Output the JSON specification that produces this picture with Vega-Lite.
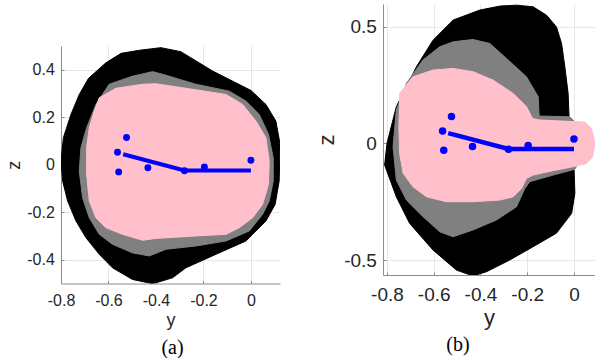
{
  "$schema": "https://vega.github.io/schema/vega-lite/v6.json",
  "padding": {"left": 5, "top": 4, "right": 0, "bottom": 0},
  "background": "white",
  "config": {
    "view": {"stroke": null},
    "axis": {"labelFont": "Liberation Sans", "titleFont": "Liberation Sans", "labelColor": "#262626", "titleColor": "#262626", "titleFontWeight": "normal", "gridColor": "#e6e6e6", "gridWidth": 1, "domainColor": "#8c8c8c", "domainWidth": 1, "ticks": true, "tickSize": -3, "tickColor": "#8c8c8c", "tickWidth": 1, "labelFlush": false, "labelOverlap": false},
    "title": {"font": "Liberation Serif", "fontWeight": "normal", "color": "black"}
  },
  "datasets": {
    "shapes": [
      {"p":"a","s":"black","i":1,"y":-0.379,"z":0.493},{"p":"a","s":"black","i":2,"y":-0.295,"z":0.476},{"p":"a","s":"black","i":3,"y":-0.162,"z":0.395},{"p":"a","s":"black","i":4,"y":0.0,"z":0.313},{"p":"a","s":"black","i":5,"y":0.063,"z":0.254},{"p":"a","s":"black","i":6,"y":0.105,"z":0.184},{"p":"a","s":"black","i":7,"y":0.123,"z":0.086},{"p":"a","s":"black","i":8,"y":0.119,"z":-0.069},{"p":"a","s":"black","i":9,"y":0.102,"z":-0.167},{"p":"a","s":"black","i":10,"y":0.063,"z":-0.237},{"p":"a","s":"black","i":11,"y":0.007,"z":-0.293},{"p":"a","s":"black","i":12,"y":-0.021,"z":-0.321},{"p":"a","s":"black","i":13,"y":-0.147,"z":-0.377},{"p":"a","s":"black","i":14,"y":-0.274,"z":-0.434},{"p":"a","s":"black","i":15,"y":-0.33,"z":-0.476},{"p":"a","s":"black","i":16,"y":-0.414,"z":-0.501},{"p":"a","s":"black","i":17,"y":-0.499,"z":-0.483},{"p":"a","s":"black","i":18,"y":-0.583,"z":-0.434},{"p":"a","s":"black","i":19,"y":-0.639,"z":-0.377},{"p":"a","s":"black","i":20,"y":-0.695,"z":-0.307},{"p":"a","s":"black","i":21,"y":-0.737,"z":-0.237},{"p":"a","s":"black","i":22,"y":-0.772,"z":-0.153},{"p":"a","s":"black","i":23,"y":-0.793,"z":-0.069},{"p":"a","s":"black","i":24,"y":-0.8,"z":0.016},{"p":"a","s":"black","i":25,"y":-0.79,"z":0.114},{"p":"a","s":"black","i":26,"y":-0.758,"z":0.212},{"p":"a","s":"black","i":27,"y":-0.723,"z":0.296},{"p":"a","s":"black","i":28,"y":-0.684,"z":0.364},{"p":"a","s":"black","i":29,"y":-0.611,"z":0.429},{"p":"a","s":"black","i":30,"y":-0.547,"z":0.469},{"p":"a","s":"black","i":31,"y":-0.47,"z":0.482},
      {"p":"a","s":"gray","i":1,"y":-0.597,"z":0.339},{"p":"a","s":"gray","i":2,"y":-0.499,"z":0.373},{"p":"a","s":"gray","i":3,"y":-0.414,"z":0.392},{"p":"a","s":"gray","i":4,"y":-0.372,"z":0.381},{"p":"a","s":"gray","i":5,"y":-0.232,"z":0.339},{"p":"a","s":"gray","i":6,"y":-0.091,"z":0.31},{"p":"a","s":"gray","i":7,"y":-0.021,"z":0.268},{"p":"a","s":"gray","i":8,"y":0.035,"z":0.212},{"p":"a","s":"gray","i":9,"y":0.074,"z":0.128},{"p":"a","s":"gray","i":10,"y":0.094,"z":0.029},{"p":"a","s":"gray","i":11,"y":0.094,"z":-0.069},{"p":"a","s":"gray","i":12,"y":0.077,"z":-0.153},{"p":"a","s":"gray","i":13,"y":0.049,"z":-0.209},{"p":"a","s":"gray","i":14,"y":-0.007,"z":-0.279},{"p":"a","s":"gray","i":15,"y":-0.105,"z":-0.321},{"p":"a","s":"gray","i":16,"y":-0.232,"z":-0.342},{"p":"a","s":"gray","i":17,"y":-0.358,"z":-0.356},{"p":"a","s":"gray","i":18,"y":-0.428,"z":-0.384},{"p":"a","s":"gray","i":19,"y":-0.499,"z":-0.371},{"p":"a","s":"gray","i":20,"y":-0.583,"z":-0.335},{"p":"a","s":"gray","i":21,"y":-0.639,"z":-0.293},{"p":"a","s":"gray","i":22,"y":-0.681,"z":-0.223},{"p":"a","s":"gray","i":23,"y":-0.709,"z":-0.139},{"p":"a","s":"gray","i":24,"y":-0.723,"z":-0.027},{"p":"a","s":"gray","i":25,"y":-0.716,"z":0.072},{"p":"a","s":"gray","i":26,"y":-0.692,"z":0.156},{"p":"a","s":"gray","i":27,"y":-0.653,"z":0.254},
      {"p":"a","s":"pink","i":1,"y":-0.639,"z":0.282},{"p":"a","s":"pink","i":2,"y":-0.568,"z":0.322},{"p":"a","s":"pink","i":3,"y":-0.456,"z":0.339},{"p":"a","s":"pink","i":4,"y":-0.4,"z":0.341},{"p":"a","s":"pink","i":5,"y":-0.274,"z":0.322},{"p":"a","s":"pink","i":6,"y":-0.105,"z":0.296},{"p":"a","s":"pink","i":7,"y":-0.035,"z":0.254},{"p":"a","s":"pink","i":8,"y":0.021,"z":0.184},{"p":"a","s":"pink","i":9,"y":0.063,"z":0.114},{"p":"a","s":"pink","i":10,"y":0.077,"z":0.016},{"p":"a","s":"pink","i":11,"y":0.074,"z":-0.083},{"p":"a","s":"pink","i":12,"y":0.049,"z":-0.167},{"p":"a","s":"pink","i":13,"y":0.007,"z":-0.223},{"p":"a","s":"pink","i":14,"y":-0.049,"z":-0.265},{"p":"a","s":"pink","i":15,"y":-0.105,"z":-0.293},{"p":"a","s":"pink","i":16,"y":-0.232,"z":-0.3},{"p":"a","s":"pink","i":17,"y":-0.4,"z":-0.31},{"p":"a","s":"pink","i":18,"y":-0.456,"z":-0.318},{"p":"a","s":"pink","i":19,"y":-0.541,"z":-0.293},{"p":"a","s":"pink","i":20,"y":-0.611,"z":-0.265},{"p":"a","s":"pink","i":21,"y":-0.653,"z":-0.223},{"p":"a","s":"pink","i":22,"y":-0.681,"z":-0.153},{"p":"a","s":"pink","i":23,"y":-0.692,"z":-0.04},{"p":"a","s":"pink","i":24,"y":-0.692,"z":0.072},{"p":"a","s":"pink","i":25,"y":-0.681,"z":0.156},{"p":"a","s":"pink","i":26,"y":-0.66,"z":0.226},
      {"p":"b","s":"black","i":1,"y":-0.317,"z":0.588},{"p":"b","s":"black","i":2,"y":-0.246,"z":0.592},{"p":"b","s":"black","i":3,"y":-0.175,"z":0.585},{"p":"b","s":"black","i":4,"y":-0.117,"z":0.549},{"p":"b","s":"black","i":5,"y":-0.075,"z":0.499},{"p":"b","s":"black","i":6,"y":-0.053,"z":0.428},{"p":"b","s":"black","i":7,"y":-0.039,"z":0.328},{"p":"b","s":"black","i":8,"y":-0.025,"z":0.214},{"p":"b","s":"black","i":9,"y":-0.021,"z":0.114},{"p":"b","s":"black","i":10,"y":-0.01,"z":0.0},{"p":"b","s":"black","i":11,"y":0.0,"z":-0.1},{"p":"b","s":"black","i":12,"y":0.004,"z":-0.214},{"p":"b","s":"black","i":13,"y":-0.01,"z":-0.3},{"p":"b","s":"black","i":14,"y":-0.075,"z":-0.385},{"p":"b","s":"black","i":15,"y":-0.175,"z":-0.443},{"p":"b","s":"black","i":16,"y":-0.275,"z":-0.5},{"p":"b","s":"black","i":17,"y":-0.374,"z":-0.55},{"p":"b","s":"black","i":18,"y":-0.432,"z":-0.568},{"p":"b","s":"black","i":19,"y":-0.503,"z":-0.543},{"p":"b","s":"black","i":20,"y":-0.603,"z":-0.457},{"p":"b","s":"black","i":21,"y":-0.703,"z":-0.343},{"p":"b","s":"black","i":22,"y":-0.76,"z":-0.229},{"p":"b","s":"black","i":23,"y":-0.81,"z":-0.093},{"p":"b","s":"black","i":24,"y":-0.8,"z":0.0},{"p":"b","s":"black","i":25,"y":-0.76,"z":0.157},{"p":"b","s":"black","i":26,"y":-0.674,"z":0.328},{"p":"b","s":"black","i":27,"y":-0.603,"z":0.442},{"p":"b","s":"black","i":28,"y":-0.517,"z":0.528},{"p":"b","s":"black","i":29,"y":-0.403,"z":0.571},
      {"p":"b","s":"gray","i":1,"y":-0.517,"z":0.435},{"p":"b","s":"gray","i":2,"y":-0.432,"z":0.445},{"p":"b","s":"gray","i":3,"y":-0.36,"z":0.428},{"p":"b","s":"gray","i":4,"y":-0.289,"z":0.364},{"p":"b","s":"gray","i":5,"y":-0.203,"z":0.285},{"p":"b","s":"gray","i":6,"y":-0.153,"z":0.2},{"p":"b","s":"gray","i":7,"y":-0.149,"z":0.117},{"p":"b","s":"gray","i":8,"y":-0.018,"z":0.114},{"p":"b","s":"gray","i":9,"y":0.025,"z":0.071},{"p":"b","s":"gray","i":10,"y":0.025,"z":-0.072},{"p":"b","s":"gray","i":11,"y":0.004,"z":-0.111},{"p":"b","s":"gray","i":12,"y":-0.089,"z":-0.136},{"p":"b","s":"gray","i":13,"y":-0.189,"z":-0.164},{"p":"b","s":"gray","i":14,"y":-0.21,"z":-0.193},{"p":"b","s":"gray","i":15,"y":-0.246,"z":-0.272},{"p":"b","s":"gray","i":16,"y":-0.331,"z":-0.328},{"p":"b","s":"gray","i":17,"y":-0.432,"z":-0.371},{"p":"b","s":"gray","i":18,"y":-0.517,"z":-0.4},{"p":"b","s":"gray","i":19,"y":-0.574,"z":-0.379},{"p":"b","s":"gray","i":20,"y":-0.646,"z":-0.314},{"p":"b","s":"gray","i":21,"y":-0.717,"z":-0.243},{"p":"b","s":"gray","i":22,"y":-0.76,"z":-0.157},{"p":"b","s":"gray","i":23,"y":-0.774,"z":-0.015},{"p":"b","s":"gray","i":24,"y":-0.76,"z":0.143},{"p":"b","s":"gray","i":25,"y":-0.717,"z":0.257},{"p":"b","s":"gray","i":26,"y":-0.646,"z":0.357},{"p":"b","s":"gray","i":27,"y":-0.574,"z":0.414},
      {"p":"b","s":"pink","i":1,"y":-0.746,"z":0.214},{"p":"b","s":"pink","i":2,"y":-0.689,"z":0.285},{"p":"b","s":"pink","i":3,"y":-0.603,"z":0.314},{"p":"b","s":"pink","i":4,"y":-0.517,"z":0.321},{"p":"b","s":"pink","i":5,"y":-0.432,"z":0.307},{"p":"b","s":"pink","i":6,"y":-0.346,"z":0.271},{"p":"b","s":"pink","i":7,"y":-0.26,"z":0.214},{"p":"b","s":"pink","i":8,"y":-0.203,"z":0.157},{"p":"b","s":"pink","i":9,"y":-0.177,"z":0.107},{"p":"b","s":"pink","i":10,"y":-0.146,"z":0.1},{"p":"b","s":"pink","i":11,"y":0.047,"z":0.091},{"p":"b","s":"pink","i":12,"y":0.075,"z":0.064},{"p":"b","s":"pink","i":13,"y":0.09,"z":0.0},{"p":"b","s":"pink","i":14,"y":0.08,"z":-0.057},{"p":"b","s":"pink","i":15,"y":0.054,"z":-0.086},{"p":"b","s":"pink","i":16,"y":-0.003,"z":-0.1},{"p":"b","s":"pink","i":17,"y":-0.089,"z":-0.117},{"p":"b","s":"pink","i":18,"y":-0.175,"z":-0.136},{"p":"b","s":"pink","i":19,"y":-0.203,"z":-0.15},{"p":"b","s":"pink","i":20,"y":-0.224,"z":-0.193},{"p":"b","s":"pink","i":21,"y":-0.26,"z":-0.229},{"p":"b","s":"pink","i":22,"y":-0.317,"z":-0.243},{"p":"b","s":"pink","i":23,"y":-0.432,"z":-0.25},{"p":"b","s":"pink","i":24,"y":-0.546,"z":-0.25},{"p":"b","s":"pink","i":25,"y":-0.631,"z":-0.229},{"p":"b","s":"pink","i":26,"y":-0.689,"z":-0.186},{"p":"b","s":"pink","i":27,"y":-0.731,"z":-0.128},{"p":"b","s":"pink","i":28,"y":-0.746,"z":-0.043},{"p":"b","s":"pink","i":29,"y":-0.749,"z":0.071},{"p":"b","s":"pink","i":30,"y":-0.746,"z":0.185}
    ],
    "lines": [
      {"p":"a","i":1,"y":-0.538,"z":0.044},{"p":"a","i":2,"y":-0.28,"z":-0.024},{"p":"a","i":3,"y":0.0,"z":-0.024},
      {"p":"b","i":1,"y":-0.538,"z":0.044},{"p":"b","i":2,"y":-0.28,"z":-0.024},{"p":"b","i":3,"y":0.0,"z":-0.024}
    ],
    "pts": [
      {"p":"a","y":-0.562,"z":0.053},{"p":"a","y":-0.524,"z":0.115},{"p":"a","y":-0.557,"z":-0.03},{"p":"a","y":-0.434,"z":-0.013},{"p":"a","y":-0.28,"z":-0.025},{"p":"a","y":-0.196,"z":-0.009},{"p":"a","y":0.0,"z":0.019},
      {"p":"b","y":-0.562,"z":0.053},{"p":"b","y":-0.524,"z":0.115},{"p":"b","y":-0.557,"z":-0.03},{"p":"b","y":-0.434,"z":-0.013},{"p":"b","y":-0.28,"z":-0.025},{"p":"b","y":-0.196,"z":-0.009},{"p":"b","y":0.0,"z":0.019}
    ]
  },
  "spacing": 35,
  "hconcat": [
    {
      "spacing": 20,
      "vconcat": [
        {"width": 219, "height": 21.7, "data": {"values": [{}]}, "mark": {"type": "point", "opacity": 0, "size": 1}, "encoding": {}},
        {
          "width": 219, "height": 237.5,
          "title": {"text": "(a)", "orient": "bottom", "fontSize": 20, "offset": 8, "anchor": "middle", "frame": "group", "dx": 2},
          "encoding": {
            "x": {"field": "y", "type": "quantitative", "scale": {"domain": [-0.8, 0.1225], "nice": false, "zero": false},
                  "axis": {"title": "y", "values": [-0.8, -0.6, -0.4, -0.2, 0], "labelFontSize": 16, "titleFontSize": 18, "labelPadding": 12, "titlePadding": 3,
                           "labelExpr": "datum.value < 0 ? '-' + format(-datum.value, '~g') : format(datum.value, '~g')"}},
            "y": {"field": "z", "type": "quantitative", "scale": {"domain": [-0.5, 0.5], "nice": false, "zero": false},
                  "axis": {"title": "z", "values": [-0.4, -0.2, 0, 0.2, 0.4], "labelFontSize": 16, "titleFontSize": 18, "labelPadding": 9.7, "titlePadding": 3,
                           "labelExpr": "datum.value < 0 ? '-' + format(-datum.value, '~g') : format(datum.value, '~g')"}}
          },
          "layer": [
            {"data": {"name": "shapes"}, "transform": [{"filter": "datum.p == 'a' && datum.s == 'black'"}], "mark": {"type": "line", "interpolate": "linear-closed", "fill": "black", "stroke": "black", "strokeWidth": 1, "clip": true}, "encoding": {"order": {"field": "i", "type": "quantitative"}}},
            {"data": {"name": "shapes"}, "transform": [{"filter": "datum.p == 'a' && datum.s == 'gray'"}], "mark": {"type": "line", "interpolate": "linear-closed", "fill": "#808080", "stroke": "#808080", "strokeWidth": 1, "clip": true}, "encoding": {"order": {"field": "i", "type": "quantitative"}}},
            {"data": {"name": "shapes"}, "transform": [{"filter": "datum.p == 'a' && datum.s == 'pink'"}], "mark": {"type": "line", "interpolate": "linear-closed", "fill": "#ffc0cb", "stroke": "#ffc0cb", "strokeWidth": 1, "clip": true}, "encoding": {"order": {"field": "i", "type": "quantitative"}}},
            {"data": {"name": "lines"}, "transform": [{"filter": "datum.p == 'a'"}], "mark": {"type": "line", "color": "#0000ff", "strokeWidth": 4, "clip": true}, "encoding": {"order": {"field": "i", "type": "quantitative"}}},
            {"data": {"name": "pts"}, "transform": [{"filter": "datum.p == 'a'"}], "mark": {"type": "circle", "color": "#0000ff", "size": 48, "opacity": 1}}
          ]
        }
      ]
    },
    {
      "width": 212, "height": 271,
      "title": {"text": "(b)", "orient": "bottom", "fontSize": 20, "offset": 7, "anchor": "middle", "frame": "group", "dx": -31},
      "encoding": {
        "x": {"field": "y", "type": "quantitative", "scale": {"domain": [-0.817, 0.09], "nice": false, "zero": false},
              "axis": {"title": "y", "values": [-0.8, -0.6, -0.4, -0.2, 0], "labelFontSize": 19, "titleFontSize": 22, "labelPadding": 13, "titlePadding": 3,
                       "labelExpr": "datum.value < 0 ? '-' + format(-datum.value, '~g') : format(datum.value, '~g')"}},
        "y": {"field": "z", "type": "quantitative", "scale": {"domain": [-0.564, 0.597], "nice": false, "zero": false},
              "axis": {"title": "z", "values": [-0.5, 0, 0.5], "labelFontSize": 19, "titleFontSize": 22, "labelPadding": 9.6, "titlePadding": 5,
                       "labelExpr": "datum.value < 0 ? '-' + format(-datum.value, '~g') : format(datum.value, '~g')"}}
      },
      "layer": [
        {"data": {"name": "shapes"}, "transform": [{"filter": "datum.p == 'b' && datum.s == 'black'"}], "mark": {"type": "line", "interpolate": "linear-closed", "fill": "black", "stroke": "black", "strokeWidth": 1, "clip": true}, "encoding": {"order": {"field": "i", "type": "quantitative"}}},
        {"data": {"name": "shapes"}, "transform": [{"filter": "datum.p == 'b' && datum.s == 'gray'"}], "mark": {"type": "line", "interpolate": "linear-closed", "fill": "#808080", "stroke": "#808080", "strokeWidth": 1, "clip": true}, "encoding": {"order": {"field": "i", "type": "quantitative"}}},
        {"data": {"name": "shapes"}, "transform": [{"filter": "datum.p == 'b' && datum.s == 'pink'"}], "mark": {"type": "line", "interpolate": "linear-closed", "fill": "#ffc0cb", "stroke": "#ffc0cb", "strokeWidth": 1, "clip": true}, "encoding": {"order": {"field": "i", "type": "quantitative"}}},
        {"data": {"name": "lines"}, "transform": [{"filter": "datum.p == 'b'"}], "mark": {"type": "line", "color": "#0000ff", "strokeWidth": 4.5, "clip": true}, "encoding": {"order": {"field": "i", "type": "quantitative"}}},
        {"data": {"name": "pts"}, "transform": [{"filter": "datum.p == 'b'"}], "mark": {"type": "circle", "color": "#0000ff", "size": 56, "opacity": 1}}
      ]
    }
  ]
}
